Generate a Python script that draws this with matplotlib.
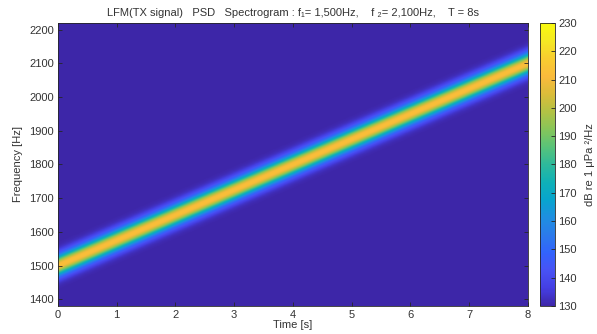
import numpy as np
import matplotlib
matplotlib.use('Agg')
import matplotlib.pyplot as plt
from matplotlib.colors import LinearSegmentedColormap

# chirp parameters (from the title)
f1 = 1500.0
f2 = 2100.0
T = 8.0

# levels (dB re 1 uPa^2/Hz)
peak_db = 213.0
floor_db = 130.0
ridge_width = 30.0   # Hz, gaussian width of the ridge

t_ticks = [0, 1, 2, 3, 4, 5, 6, 7, 8]
f_ticks = [1400, 1500, 1600, 1700, 1800, 1900, 2000, 2100, 2200]
c_ticks = [130, 140, 150, 160, 170, 180, 190, 200, 210, 220, 230]

# parula-like colormap
parula_pts = [
    (0.2422, 0.1504, 0.6603),
    (0.2691, 0.2467, 0.8949),
    (0.2810, 0.3228, 0.9579),
    (0.1953, 0.3896, 0.9890),
    (0.1707, 0.4800, 0.9200),
    (0.1185, 0.5603, 0.8793),
    (0.0282, 0.6447, 0.8078),
    (0.0595, 0.6925, 0.7150),
    (0.1818, 0.7271, 0.6076),
    (0.3469, 0.7634, 0.4748),
    (0.5300, 0.7750, 0.3500),
    (0.7000, 0.7600, 0.2700),
    (0.8574, 0.7402, 0.2266),
    (0.9803, 0.7314, 0.2349),
    (0.9758, 0.8008, 0.1878),
    (0.9580, 0.9110, 0.1380),
    (0.9763, 0.9831, 0.0538),
]
parula = LinearSegmentedColormap.from_list('parula', parula_pts, N=256)

t = np.linspace(0, T, 400)
f = np.linspace(1380, 2220, 500)
TT, FF = np.meshgrid(t, f)
f_inst = f1 + (f2 - f1) * TT / T
df = FF - f_inst
S = floor_db + (peak_db - floor_db) * np.exp(-(df / ridge_width) ** 2)

plt.rcParams['font.family'] = ['Liberation Sans', 'DejaVu Sans']
plt.rcParams['font.size'] = 8
txt = '#333333'

fig = plt.figure(figsize=(5.97, 3.34), dpi=100)
ax = fig.add_axes([0.097, 0.084, 0.787, 0.847])
im = ax.imshow(S, origin='lower', aspect='auto', cmap=parula, vmin=130, vmax=230,
               extent=[0, T, 1380, 2220], interpolation='bilinear')
ax.set_xlim(0, T)
ax.set_ylim(1380, 2220)
ax.set_xticks(t_ticks)
ax.set_yticks(f_ticks)
ax.tick_params(direction='in', top=True, right=True, length=3, width=0.6,
               colors='#262626', labelcolor=txt, labelsize=8, pad=3)
for s in ax.spines.values():
    s.set_color('#262626')
    s.set_linewidth(0.6)
ax.set_xlabel('Time [s]', color=txt, labelpad=0)
ax.set_ylabel('Frequency [Hz]', color=txt, labelpad=4)
ax.set_title('LFM(TX signal)   PSD   Spectrogram : f\u2081= 1,500Hz,    f \u2082= 2,100Hz,    T = 8s',
             color=txt, fontsize=8, pad=5)

cax = fig.add_axes([0.905, 0.084, 0.025, 0.847])
cb = fig.colorbar(im, cax=cax, ticks=c_ticks)
cb.outline.set_edgecolor('#262626')
cb.outline.set_linewidth(0.6)
cax.tick_params(direction='in', length=3, width=0.6, colors='#262626',
                labelcolor=txt, labelsize=8, pad=2)
cb.set_label('dB re 1 \u03bcPa \u00b2/Hz', color=txt, labelpad=6)

fig.savefig('out.png', dpi=100)
